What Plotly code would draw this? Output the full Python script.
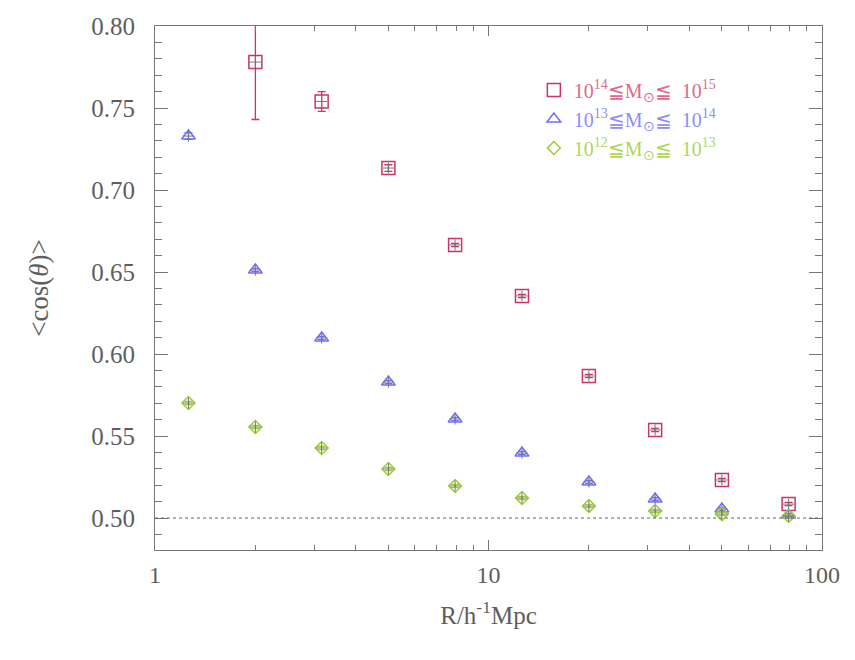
import plotly.graph_objects as go

# radius bins (h^-1 Mpc)
radius = [1.26, 2.0, 3.16, 5.01, 7.94, 12.6, 20.0, 31.6, 50.1, 79.4]

# <cos(theta)> per mass bin; red bin has no value in the first radius bin
cos_m14 = [None, 0.778, 0.754, 0.7134, 0.6665, 0.6354, 0.5866, 0.5537, 0.5232, 0.5085]
err_m14 = [None, 0.035, 0.006, 0.002, 0.001, 0.001, 0.001, 0.001, 0.001, 0.001]

cos_m13 = [0.7329, 0.6512, 0.6098, 0.5829, 0.5604, 0.5396, 0.5220, 0.5116, 0.5055, 0.5018]
err_m13 = [0.002, 0.001, 0.001, 0.001, 0.001, 0.001, 0.001, 0.001, 0.001, 0.001]

cos_m12 = [0.5701, 0.5555, 0.5427, 0.5299, 0.5195, 0.5122, 0.5073, 0.5043, 0.5024, 0.5012]
err_m12 = [0.001, 0.001, 0.001, 0.001, 0.001, 0.001, 0.001, 0.001, 0.001, 0.001]

labels = [
    "10<sup>14</sup>≦M<sub>⊙</sub>≦  10<sup>15</sup>",
    "10<sup>13</sup>≦M<sub>⊙</sub>≦  10<sup>14</sup>",
    "10<sup>12</sup>≦M<sub>⊙</sub>≦  10<sup>13</sup>",
]
colors = ["#cc3366", "#6e6eff", "#9acd32"]
text_colors = ["#dd6a8c", "#8c8cff", "#b0d65a"]
symbols = ["square-open", "triangle-up-open", "diamond-open"]
sizes = [13, 12, 10]

x_minor = [2, 3, 4, 5, 6, 7, 8, 9, 20, 30, 40, 50, 60, 70, 80, 90]

font_name = "Liberation Serif"
grey = "#5e5e5e"
axis_grey = "#777777"

fig = go.Figure()

series = [(cos_m14, err_m14), (cos_m13, err_m13), (cos_m12, err_m12)]
for i, (vals, errs) in enumerate(series):
    fig.add_trace(go.Scatter(
        x=radius, y=vals, mode="markers",
        marker=dict(symbol=symbols[i], size=sizes[i], color=colors[i],
                    line=dict(width=1.5, color=colors[i])),
        error_y=dict(type="data", array=errs, visible=True,
                     color=colors[i], thickness=1.3, width=4),
        name="<span style='color:%s'>%s</span>" % (text_colors[i], labels[i]),
        cliponaxis=True,
    ))
    # small plus drawn at the centre of each symbol
    fig.add_trace(go.Scatter(
        x=radius, y=vals, mode="markers", showlegend=False, hoverinfo="skip",
        marker=dict(symbol="cross-thin", size=8,
                    line=dict(width=1, color="#777777")),
    ))

fig.add_hline(y=0.5, line=dict(color="#666666", width=1, dash="dot"))

# page body adds an 8px offset, so the figure is 8px smaller on each side
fig.update_layout(
    width=847, height=652,
    margin=dict(l=147, r=33, t=18, b=110, pad=0, autoexpand=False),
    plot_bgcolor="white", paper_bgcolor="white",
    font=dict(family=font_name, size=23, color=grey),
    showlegend=True,
    legend=dict(x=0.568, y=0.915, xanchor="left", yanchor="top",
                bgcolor="rgba(0,0,0,0)", font=dict(size=20),
                itemwidth=30, tracegroupgap=0),
    xaxis=dict(
        type="log", range=[0, 2], automargin=False,
        tickvals=[1, 10, 100], ticktext=["1", "10", "100"],
        ticks="inside", ticklen=10, tickwidth=1, tickcolor=axis_grey,
        minor=dict(tickvals=x_minor, ticks="inside", ticklen=5,
                   tickcolor=axis_grey, showgrid=False),
        showline=True, linecolor=axis_grey, linewidth=1, mirror="allticks",
        showgrid=False, zeroline=False, ticklabelstandoff=3,
        tickfont=dict(size=24),
        title=dict(text="R/h<sup>-1</sup>Mpc", standoff=19, font=dict(size=25)),
    ),
    yaxis=dict(
        range=[0.4805, 0.80], automargin=False,
        tick0=0.5, dtick=0.05, tickformat=".2f",
        ticks="inside", ticklen=13, tickwidth=1, tickcolor=axis_grey,
        minor=dict(dtick=0.01, ticks="inside", ticklen=7,
                   tickcolor=axis_grey, showgrid=False),
        showline=True, linecolor=axis_grey, linewidth=1, mirror="allticks",
        showgrid=False, zeroline=False, ticklabelstandoff=14,
        tickfont=dict(size=25),
        title=dict(text="&lt;cos(<i>θ</i>)&gt;", standoff=34, font=dict(size=27)),
    ),
)

fig.write_html("out.html")
